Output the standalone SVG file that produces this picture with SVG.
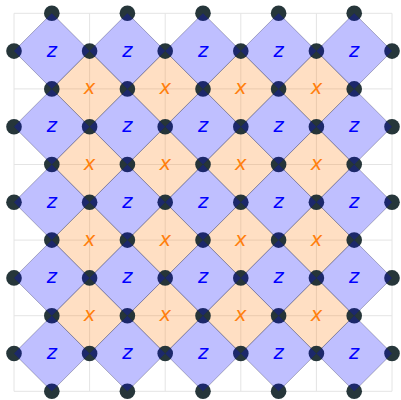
<svg xmlns="http://www.w3.org/2000/svg" xmlns:xlink="http://www.w3.org/1999/xlink" width="401" height="400" viewBox="0 0 401 400">
<style>
.grid line{stroke:#e4e4e4;stroke-width:1}
.px{fill:#ff7f0e;fill-opacity:0.25;stroke:#808080;stroke-opacity:0.55;stroke-width:1}
.pz{fill:#0000ff;fill-opacity:0.25;stroke:none}
.oz{fill:none;stroke:#808080;stroke-opacity:0.55;stroke-width:1}
.q{fill:#1f3034;fill-opacity:0.97}
text{font-family:"DejaVu Sans",sans-serif;font-style:italic;font-size:19.5px;text-anchor:middle}
.tx{fill:#ff7f0e}
.tz{fill:#0000ff}
</style>
<defs>
<polygon id="dia" points="-37.8,0 0,-37.8 37.8,0 0,37.8"/>
</defs>
<rect width="401" height="400" fill="#ffffff"/>
<g class="grid">
<line x1="14" y1="13.3" x2="14" y2="391.3"/>
<line x1="89.6" y1="13.3" x2="89.6" y2="391.3"/>
<line x1="165.2" y1="13.3" x2="165.2" y2="391.3"/>
<line x1="240.8" y1="13.3" x2="240.8" y2="391.3"/>
<line x1="316.4" y1="13.3" x2="316.4" y2="391.3"/>
<line x1="392" y1="13.3" x2="392" y2="391.3"/>
<line x1="14" y1="13.3" x2="392" y2="13.3"/>
<line x1="14" y1="88.9" x2="392" y2="88.9"/>
<line x1="14" y1="164.5" x2="392" y2="164.5"/>
<line x1="14" y1="240.1" x2="392" y2="240.1"/>
<line x1="14" y1="315.7" x2="392" y2="315.7"/>
<line x1="14" y1="391.3" x2="392" y2="391.3"/>
</g>
<g id="connectors"></g>
<g id="x-stabilizers">
<g id="x-2-2"><use href="#dia" class="px" x="89.6" y="88.9"/><text class="tx" x="89.6" y="94.4">x</text></g>
<g id="x-4-2"><use href="#dia" class="px" x="165.2" y="88.9"/><text class="tx" x="165.2" y="94.4">x</text></g>
<g id="x-6-2"><use href="#dia" class="px" x="240.8" y="88.9"/><text class="tx" x="240.8" y="94.4">x</text></g>
<g id="x-8-2"><use href="#dia" class="px" x="316.4" y="88.9"/><text class="tx" x="316.4" y="94.4">x</text></g>
<g id="x-2-4"><use href="#dia" class="px" x="89.6" y="164.5"/><text class="tx" x="89.6" y="170">x</text></g>
<g id="x-4-4"><use href="#dia" class="px" x="165.2" y="164.5"/><text class="tx" x="165.2" y="170">x</text></g>
<g id="x-6-4"><use href="#dia" class="px" x="240.8" y="164.5"/><text class="tx" x="240.8" y="170">x</text></g>
<g id="x-8-4"><use href="#dia" class="px" x="316.4" y="164.5"/><text class="tx" x="316.4" y="170">x</text></g>
<g id="x-2-6"><use href="#dia" class="px" x="89.6" y="240.1"/><text class="tx" x="89.6" y="245.6">x</text></g>
<g id="x-4-6"><use href="#dia" class="px" x="165.2" y="240.1"/><text class="tx" x="165.2" y="245.6">x</text></g>
<g id="x-6-6"><use href="#dia" class="px" x="240.8" y="240.1"/><text class="tx" x="240.8" y="245.6">x</text></g>
<g id="x-8-6"><use href="#dia" class="px" x="316.4" y="240.1"/><text class="tx" x="316.4" y="245.6">x</text></g>
<g id="x-2-8"><use href="#dia" class="px" x="89.6" y="315.7"/><text class="tx" x="89.6" y="321.2">x</text></g>
<g id="x-4-8"><use href="#dia" class="px" x="165.2" y="315.7"/><text class="tx" x="165.2" y="321.2">x</text></g>
<g id="x-6-8"><use href="#dia" class="px" x="240.8" y="315.7"/><text class="tx" x="240.8" y="321.2">x</text></g>
<g id="x-8-8"><use href="#dia" class="px" x="316.4" y="315.7"/><text class="tx" x="316.4" y="321.2">x</text></g>
</g>
<g id="z-outlines">
<use href="#dia" class="oz" x="51.8" y="51.1"/><use href="#dia" class="oz" x="127.4" y="51.1"/><use href="#dia" class="oz" x="203" y="51.1"/><use href="#dia" class="oz" x="278.6" y="51.1"/><use href="#dia" class="oz" x="354.2" y="51.1"/>
<use href="#dia" class="oz" x="51.8" y="126.7"/><use href="#dia" class="oz" x="127.4" y="126.7"/><use href="#dia" class="oz" x="203" y="126.7"/><use href="#dia" class="oz" x="278.6" y="126.7"/><use href="#dia" class="oz" x="354.2" y="126.7"/>
<use href="#dia" class="oz" x="51.8" y="202.3"/><use href="#dia" class="oz" x="127.4" y="202.3"/><use href="#dia" class="oz" x="203" y="202.3"/><use href="#dia" class="oz" x="278.6" y="202.3"/><use href="#dia" class="oz" x="354.2" y="202.3"/>
<use href="#dia" class="oz" x="51.8" y="277.9"/><use href="#dia" class="oz" x="127.4" y="277.9"/><use href="#dia" class="oz" x="203" y="277.9"/><use href="#dia" class="oz" x="278.6" y="277.9"/><use href="#dia" class="oz" x="354.2" y="277.9"/>
<use href="#dia" class="oz" x="51.8" y="353.5"/><use href="#dia" class="oz" x="127.4" y="353.5"/><use href="#dia" class="oz" x="203" y="353.5"/><use href="#dia" class="oz" x="278.6" y="353.5"/><use href="#dia" class="oz" x="354.2" y="353.5"/>
</g>
<g id="qubits">
<circle id="q-1-0" class="q" cx="51.8" cy="13.3" r="7.8"/>
<circle id="q-3-0" class="q" cx="127.4" cy="13.3" r="7.8"/>
<circle id="q-5-0" class="q" cx="203" cy="13.3" r="7.8"/>
<circle id="q-7-0" class="q" cx="278.6" cy="13.3" r="7.8"/>
<circle id="q-9-0" class="q" cx="354.2" cy="13.3" r="7.8"/>
<circle id="q-0-1" class="q" cx="14" cy="51.1" r="7.8"/>
<circle id="q-2-1" class="q" cx="89.6" cy="51.1" r="7.8"/>
<circle id="q-4-1" class="q" cx="165.2" cy="51.1" r="7.8"/>
<circle id="q-6-1" class="q" cx="240.8" cy="51.1" r="7.8"/>
<circle id="q-8-1" class="q" cx="316.4" cy="51.1" r="7.8"/>
<circle id="q-10-1" class="q" cx="392" cy="51.1" r="7.8"/>
<circle id="q-1-2" class="q" cx="51.8" cy="88.9" r="7.8"/>
<circle id="q-3-2" class="q" cx="127.4" cy="88.9" r="7.8"/>
<circle id="q-5-2" class="q" cx="203" cy="88.9" r="7.8"/>
<circle id="q-7-2" class="q" cx="278.6" cy="88.9" r="7.8"/>
<circle id="q-9-2" class="q" cx="354.2" cy="88.9" r="7.8"/>
<circle id="q-0-3" class="q" cx="14" cy="126.7" r="7.8"/>
<circle id="q-2-3" class="q" cx="89.6" cy="126.7" r="7.8"/>
<circle id="q-4-3" class="q" cx="165.2" cy="126.7" r="7.8"/>
<circle id="q-6-3" class="q" cx="240.8" cy="126.7" r="7.8"/>
<circle id="q-8-3" class="q" cx="316.4" cy="126.7" r="7.8"/>
<circle id="q-10-3" class="q" cx="392" cy="126.7" r="7.8"/>
<circle id="q-1-4" class="q" cx="51.8" cy="164.5" r="7.8"/>
<circle id="q-3-4" class="q" cx="127.4" cy="164.5" r="7.8"/>
<circle id="q-5-4" class="q" cx="203" cy="164.5" r="7.8"/>
<circle id="q-7-4" class="q" cx="278.6" cy="164.5" r="7.8"/>
<circle id="q-9-4" class="q" cx="354.2" cy="164.5" r="7.8"/>
<circle id="q-0-5" class="q" cx="14" cy="202.3" r="7.8"/>
<circle id="q-2-5" class="q" cx="89.6" cy="202.3" r="7.8"/>
<circle id="q-4-5" class="q" cx="165.2" cy="202.3" r="7.8"/>
<circle id="q-6-5" class="q" cx="240.8" cy="202.3" r="7.8"/>
<circle id="q-8-5" class="q" cx="316.4" cy="202.3" r="7.8"/>
<circle id="q-10-5" class="q" cx="392" cy="202.3" r="7.8"/>
<circle id="q-1-6" class="q" cx="51.8" cy="240.1" r="7.8"/>
<circle id="q-3-6" class="q" cx="127.4" cy="240.1" r="7.8"/>
<circle id="q-5-6" class="q" cx="203" cy="240.1" r="7.8"/>
<circle id="q-7-6" class="q" cx="278.6" cy="240.1" r="7.8"/>
<circle id="q-9-6" class="q" cx="354.2" cy="240.1" r="7.8"/>
<circle id="q-0-7" class="q" cx="14" cy="277.9" r="7.8"/>
<circle id="q-2-7" class="q" cx="89.6" cy="277.9" r="7.8"/>
<circle id="q-4-7" class="q" cx="165.2" cy="277.9" r="7.8"/>
<circle id="q-6-7" class="q" cx="240.8" cy="277.9" r="7.8"/>
<circle id="q-8-7" class="q" cx="316.4" cy="277.9" r="7.8"/>
<circle id="q-10-7" class="q" cx="392" cy="277.9" r="7.8"/>
<circle id="q-1-8" class="q" cx="51.8" cy="315.7" r="7.8"/>
<circle id="q-3-8" class="q" cx="127.4" cy="315.7" r="7.8"/>
<circle id="q-5-8" class="q" cx="203" cy="315.7" r="7.8"/>
<circle id="q-7-8" class="q" cx="278.6" cy="315.7" r="7.8"/>
<circle id="q-9-8" class="q" cx="354.2" cy="315.7" r="7.8"/>
<circle id="q-0-9" class="q" cx="14" cy="353.5" r="7.8"/>
<circle id="q-2-9" class="q" cx="89.6" cy="353.5" r="7.8"/>
<circle id="q-4-9" class="q" cx="165.2" cy="353.5" r="7.8"/>
<circle id="q-6-9" class="q" cx="240.8" cy="353.5" r="7.8"/>
<circle id="q-8-9" class="q" cx="316.4" cy="353.5" r="7.8"/>
<circle id="q-10-9" class="q" cx="392" cy="353.5" r="7.8"/>
<circle id="q-1-10" class="q" cx="51.8" cy="391.3" r="7.8"/>
<circle id="q-3-10" class="q" cx="127.4" cy="391.3" r="7.8"/>
<circle id="q-5-10" class="q" cx="203" cy="391.3" r="7.8"/>
<circle id="q-7-10" class="q" cx="278.6" cy="391.3" r="7.8"/>
<circle id="q-9-10" class="q" cx="354.2" cy="391.3" r="7.8"/>
</g>
<g id="z-stabilizers">
<g id="z-1-1"><use href="#dia" class="pz" x="51.8" y="51.1"/><text class="tz" x="51.8" y="56.6">z</text></g>
<g id="z-3-1"><use href="#dia" class="pz" x="127.4" y="51.1"/><text class="tz" x="127.4" y="56.6">z</text></g>
<g id="z-5-1"><use href="#dia" class="pz" x="203" y="51.1"/><text class="tz" x="203" y="56.6">z</text></g>
<g id="z-7-1"><use href="#dia" class="pz" x="278.6" y="51.1"/><text class="tz" x="278.6" y="56.6">z</text></g>
<g id="z-9-1"><use href="#dia" class="pz" x="354.2" y="51.1"/><text class="tz" x="354.2" y="56.6">z</text></g>
<g id="z-1-3"><use href="#dia" class="pz" x="51.8" y="126.7"/><text class="tz" x="51.8" y="132.2">z</text></g>
<g id="z-3-3"><use href="#dia" class="pz" x="127.4" y="126.7"/><text class="tz" x="127.4" y="132.2">z</text></g>
<g id="z-5-3"><use href="#dia" class="pz" x="203" y="126.7"/><text class="tz" x="203" y="132.2">z</text></g>
<g id="z-7-3"><use href="#dia" class="pz" x="278.6" y="126.7"/><text class="tz" x="278.6" y="132.2">z</text></g>
<g id="z-9-3"><use href="#dia" class="pz" x="354.2" y="126.7"/><text class="tz" x="354.2" y="132.2">z</text></g>
<g id="z-1-5"><use href="#dia" class="pz" x="51.8" y="202.3"/><text class="tz" x="51.8" y="207.8">z</text></g>
<g id="z-3-5"><use href="#dia" class="pz" x="127.4" y="202.3"/><text class="tz" x="127.4" y="207.8">z</text></g>
<g id="z-5-5"><use href="#dia" class="pz" x="203" y="202.3"/><text class="tz" x="203" y="207.8">z</text></g>
<g id="z-7-5"><use href="#dia" class="pz" x="278.6" y="202.3"/><text class="tz" x="278.6" y="207.8">z</text></g>
<g id="z-9-5"><use href="#dia" class="pz" x="354.2" y="202.3"/><text class="tz" x="354.2" y="207.8">z</text></g>
<g id="z-1-7"><use href="#dia" class="pz" x="51.8" y="277.9"/><text class="tz" x="51.8" y="283.4">z</text></g>
<g id="z-3-7"><use href="#dia" class="pz" x="127.4" y="277.9"/><text class="tz" x="127.4" y="283.4">z</text></g>
<g id="z-5-7"><use href="#dia" class="pz" x="203" y="277.9"/><text class="tz" x="203" y="283.4">z</text></g>
<g id="z-7-7"><use href="#dia" class="pz" x="278.6" y="277.9"/><text class="tz" x="278.6" y="283.4">z</text></g>
<g id="z-9-7"><use href="#dia" class="pz" x="354.2" y="277.9"/><text class="tz" x="354.2" y="283.4">z</text></g>
<g id="z-1-9"><use href="#dia" class="pz" x="51.8" y="353.5"/><text class="tz" x="51.8" y="359">z</text></g>
<g id="z-3-9"><use href="#dia" class="pz" x="127.4" y="353.5"/><text class="tz" x="127.4" y="359">z</text></g>
<g id="z-5-9"><use href="#dia" class="pz" x="203" y="353.5"/><text class="tz" x="203" y="359">z</text></g>
<g id="z-7-9"><use href="#dia" class="pz" x="278.6" y="353.5"/><text class="tz" x="278.6" y="359">z</text></g>
<g id="z-9-9"><use href="#dia" class="pz" x="354.2" y="353.5"/><text class="tz" x="354.2" y="359">z</text></g>
</g>
</svg>
